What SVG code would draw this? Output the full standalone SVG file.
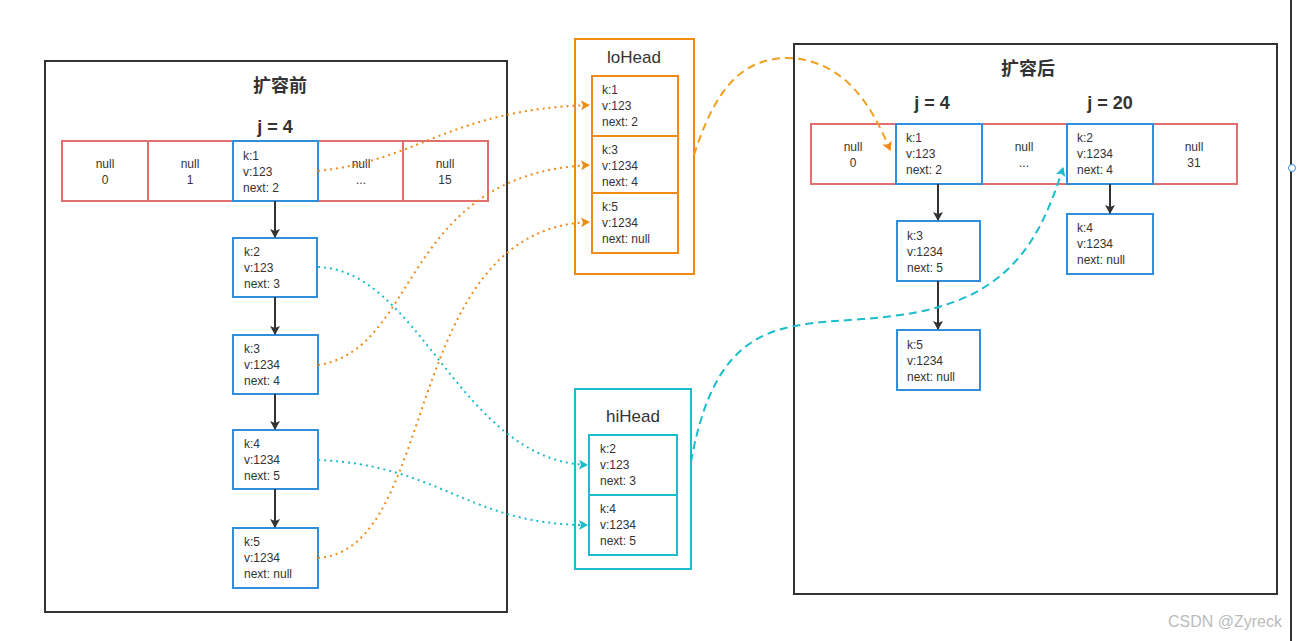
<svg xmlns="http://www.w3.org/2000/svg" width="1313" height="641" viewBox="0 0 1313 641">
<defs>
<style>
text{font-family:"Liberation Sans","Noto Sans CJK SC",sans-serif;fill:#333}
.t{font-size:12px}
.c{text-anchor:middle}
.ttl{font-size:18px;font-weight:bold;text-anchor:middle}
.frame{fill:#fff;stroke:#333;stroke-width:2}
.red{fill:#fff;stroke:#e07070;stroke-width:2}
.blue{fill:#fff;stroke:#2f8fdd;stroke-width:2}
.org{fill:#fff;stroke:#f08a16;stroke-width:2}
.cy{fill:#fff;stroke:#1bbccc;stroke-width:2}
.arr{stroke:#333;stroke-width:2;fill:none;marker-end:url(#ab)}
.od{stroke:#f08a16;stroke-width:2;fill:none;stroke-dasharray:2 4;marker-end:url(#ao)}
.cd{stroke:#1bbccc;stroke-width:2;fill:none;stroke-dasharray:2 4;marker-end:url(#ac)}
</style>
<marker id="ab" markerWidth="10" markerHeight="10" refX="8" refY="5" orient="auto" markerUnits="userSpaceOnUse"><path d="M0,0L9,5L0,10L2,5z" fill="#333"/></marker>
<marker id="ao" markerWidth="10" markerHeight="10" refX="8" refY="5" orient="auto" markerUnits="userSpaceOnUse"><path d="M0,0L9,5L0,10L2,5z" fill="#f08a16"/></marker>
<marker id="ac" markerWidth="10" markerHeight="10" refX="8" refY="5" orient="auto" markerUnits="userSpaceOnUse"><path d="M0,0L9,5L0,10L2,5z" fill="#1bbccc"/></marker>
</defs>
<rect width="1313" height="641" fill="#fff"/>
<line x1="1291" y1="0" x2="1291" y2="641" stroke="#333" stroke-width="2"/>
<circle cx="1292" cy="168" r="3.5" fill="#fff" stroke="#2f8fdd"/>

<g id="before">
<rect class="frame" x="45" y="61" width="462" height="551"/>
<text class="ttl" x="280" y="92">扩容前</text>
<text class="ttl" x="275" y="133">j = 4</text>
</g>
<g id="before-array">
<rect class="red" x="62" y="141" width="426" height="60"/>
<line x1="148" y1="141" x2="148" y2="201" stroke="#e07070" stroke-width="2"/>
<line x1="403" y1="141" x2="403" y2="201" stroke="#e07070" stroke-width="2"/>
<text class="t c" x="105" y="168">null</text><text class="t c" x="105" y="184">0</text>
<text class="t c" x="190" y="168">null</text><text class="t c" x="190" y="184">1</text>
<text class="t c" x="361" y="168">null</text><text class="t c" x="361" y="184">...</text>
<text class="t c" x="445" y="168">null</text><text class="t c" x="445" y="184">15</text>
</g>
<g id="b-k1"><rect class="blue" x="233" y="141" width="85" height="60"/>
<text class="t" x="243" y="160">k:1</text><text class="t" x="243" y="176">v:123</text><text class="t" x="243" y="192">next: 2</text></g>
<g id="b-k2"><rect class="blue" x="233" y="238" width="84" height="59"/>
<text class="t" x="244" y="256">k:2</text><text class="t" x="244" y="272">v:123</text><text class="t" x="244" y="288">next: 3</text></g>
<g id="b-k3"><rect class="blue" x="233" y="335" width="85" height="59"/>
<text class="t" x="244" y="353">k:3</text><text class="t" x="244" y="369">v:1234</text><text class="t" x="244" y="385">next: 4</text></g>
<g id="b-k4"><rect class="blue" x="233" y="430" width="85" height="59"/>
<text class="t" x="244" y="448">k:4</text><text class="t" x="244" y="464">v:1234</text><text class="t" x="244" y="480">next: 5</text></g>
<g id="b-k5"><rect class="blue" x="233" y="528" width="85" height="60"/>
<text class="t" x="244" y="546">k:5</text><text class="t" x="244" y="562">v:1234</text><text class="t" x="244" y="578">next: null</text></g>

<g id="lohead">
<rect class="org" x="575" y="39" width="119" height="235"/>
<text x="634" y="63" class="c" style="font-size:17px">loHead</text>
<rect class="org" x="592" y="76" width="86" height="60"/>
<text class="t" x="602" y="94">k:1</text><text class="t" x="602" y="110">v:123</text><text class="t" x="602" y="126">next: 2</text>
<rect class="org" x="592" y="136" width="86" height="57"/>
<text class="t" x="602" y="154">k:3</text><text class="t" x="602" y="170">v:1234</text><text class="t" x="602" y="186">next: 4</text>
<rect class="org" x="592" y="193" width="86" height="60"/>
<text class="t" x="602" y="211">k:5</text><text class="t" x="602" y="227">v:1234</text><text class="t" x="602" y="243">next: null</text>
</g>

<g id="hihead">
<rect class="cy" x="575" y="389" width="116" height="180"/>
<text x="633" y="422" class="c" style="font-size:17px">hiHead</text>
<rect class="cy" x="589" y="435" width="88" height="60"/>
<text class="t" x="600" y="453">k:2</text><text class="t" x="600" y="469">v:123</text><text class="t" x="600" y="485">next: 3</text>
<rect class="cy" x="589" y="495" width="88" height="60"/>
<text class="t" x="600" y="513">k:4</text><text class="t" x="600" y="529">v:1234</text><text class="t" x="600" y="545">next: 5</text>
</g>

<g id="after">
<rect class="frame" x="794" y="44" width="483" height="550"/>
<text class="ttl" x="1028" y="75">扩容后</text>
<text class="ttl" x="932" y="109">j = 4</text>
<text class="ttl" x="1110" y="109">j = 20</text>
</g>
<g id="after-array">
<rect class="red" x="811" y="124" width="426" height="60"/>
<text class="t c" x="853" y="151">null</text><text class="t c" x="853" y="167">0</text>
<text class="t c" x="1024" y="151">null</text><text class="t c" x="1024" y="167">...</text>
<text class="t c" x="1194" y="151">null</text><text class="t c" x="1194" y="167">31</text>
</g>
<g id="a-k1"><rect class="blue" x="896" y="124" width="86" height="60"/>
<text class="t" x="906" y="142">k:1</text><text class="t" x="906" y="158">v:123</text><text class="t" x="906" y="174">next: 2</text></g>
<g id="a-k2"><rect class="blue" x="1067" y="124" width="86" height="60"/>
<text class="t" x="1077" y="142">k:2</text><text class="t" x="1077" y="158">v:1234</text><text class="t" x="1077" y="174">next: 4</text></g>
<g id="a-k3"><rect class="blue" x="897" y="221" width="83" height="60"/>
<text class="t" x="907" y="240">k:3</text><text class="t" x="907" y="256">v:1234</text><text class="t" x="907" y="272">next: 5</text></g>
<g id="a-k5"><rect class="blue" x="897" y="330" width="83" height="60"/>
<text class="t" x="907" y="349">k:5</text><text class="t" x="907" y="365">v:1234</text><text class="t" x="907" y="381">next: null</text></g>
<g id="a-k4"><rect class="blue" x="1067" y="214" width="86" height="60"/>
<text class="t" x="1077" y="232">k:4</text><text class="t" x="1077" y="248">v:1234</text><text class="t" x="1077" y="264">next: null</text></g>

<g id="connectors">
<line class="arr" x1="275" y1="201" x2="275" y2="237"/>
<line class="arr" x1="275" y1="297" x2="275" y2="334"/>
<line class="arr" x1="275" y1="394" x2="275" y2="429"/>
<line class="arr" x1="275" y1="489" x2="275" y2="527"/>
<line class="arr" x1="938" y1="184" x2="938" y2="220"/>
<line class="arr" x1="938" y1="281" x2="938" y2="329"/>
<line class="arr" x1="1110" y1="184" x2="1110" y2="213"/>
<path class="od" d="M318,171 C420,160 450,110 589,105"/>
<path class="od" d="M318,365 C420,350 400,175 589,165"/>
<path class="od" d="M318,558 C440,550 400,230 589,222"/>
<path class="cd" d="M318,267 C420,270 460,460 587,465"/>
<path class="cd" d="M318,460 C440,465 470,525 587,525"/>
<path d="M694,155 C715,90 740,60 785,58 C840,58 870,100 890,150" fill="none" stroke="#f0a020" stroke-width="2" stroke-dasharray="8 5" marker-end="url(#ao)"/>
<path d="M691,462 C720,300 800,330 900,315 C1010,300 1040,240 1063,168" fill="none" stroke="#1bbccc" stroke-width="2" stroke-dasharray="8 5" marker-end="url(#ac)"/>
</g>
<text x="1225" y="627" class="c" style="font-size:16px;fill:#bbb">CSDN @Zyreck</text>
</svg>
